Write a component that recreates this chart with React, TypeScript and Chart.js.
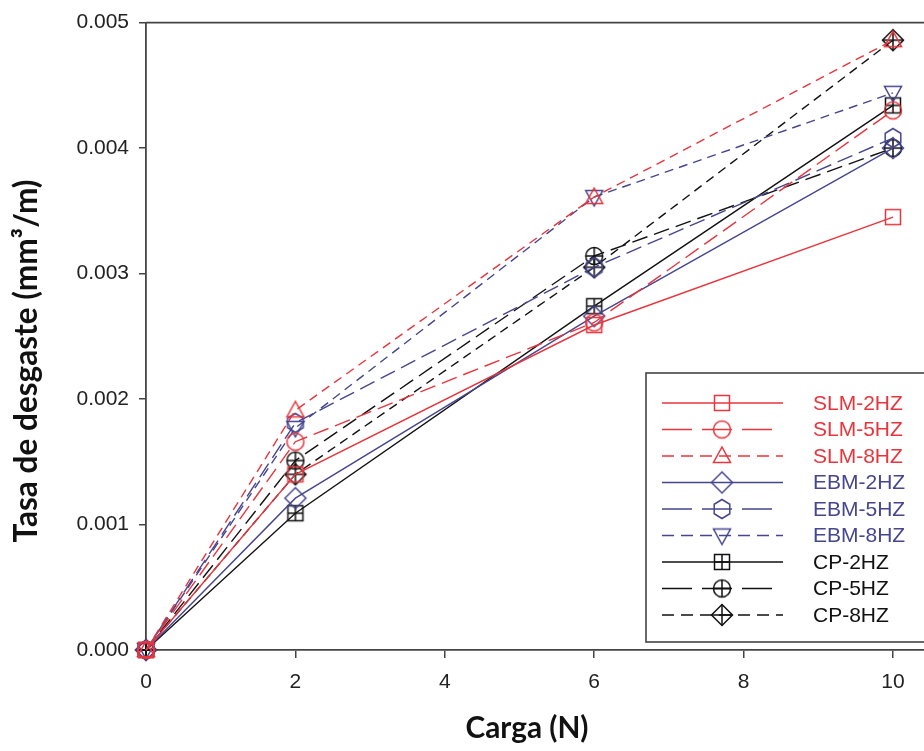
import React, { useEffect, useRef } from "react";
import { Chart, registerables } from "chart.js";
Chart.register(...registerables);

// ---- data ----
const loads = [0, 2, 6, 10];
const xTicks = [0, 2, 4, 6, 8, 10];
const yTicks = [0, 0.001, 0.002, 0.003, 0.004, 0.005];
const seriesNames = ["SLM-2HZ", "SLM-5HZ", "SLM-8HZ", "EBM-2HZ", "EBM-5HZ", "EBM-8HZ", "CP-2HZ", "CP-5HZ", "CP-8HZ"];
const slm2HZ = [0, 0.00140, 0.00259, 0.00345];
const slm5HZ = [0, 0.00166, 0.00261, 0.00430];
const slm8HZ = [0, 0.00191, 0.00361, 0.00486];
const ebm2HZ = [0, 0.00121, 0.00266, 0.00400];
const ebm5HZ = [0, 0.00181, 0.00305, 0.00408];
const ebm8HZ = [0, 0.00177, 0.00361, 0.00444];
const cp2HZ = [0, 0.00109, 0.00274, 0.00434];
const cp5HZ = [0, 0.00151, 0.00314, 0.00400];
const cp8HZ = [0, 0.00140, 0.00305, 0.00486];
const seriesValues = [slm2HZ, slm5HZ, slm8HZ, ebm2HZ, ebm5HZ, ebm8HZ, cp2HZ, cp5HZ, cp8HZ];

// ---- styles ----
const RED = "#e8353d";
const BLUE = "#46468f";
const BLACK = "#111111";
const SOLID: number[] = [];
const LONG = [16, 7];
const SHORT = [9, 6];
const LEG_LONG = [30, 10];
const LEG_SHORT = [12, 7];

const styles = [
  { color: RED, dash: SOLID, legDash: SOLID, legEnd: 783, marker: "square" },
  { color: RED, dash: LONG, legDash: LEG_LONG, legEnd: 773, marker: "circle" },
  { color: RED, dash: SHORT, legDash: LEG_SHORT, legEnd: 783, marker: "triangle" },
  { color: BLUE, dash: SOLID, legDash: SOLID, legEnd: 783, marker: "diamond" },
  { color: BLUE, dash: LONG, legDash: LEG_LONG, legEnd: 773, marker: "hexagon" },
  { color: BLUE, dash: SHORT, legDash: LEG_SHORT, legEnd: 783, marker: "triangleDown" },
  { color: BLACK, dash: SOLID, legDash: SOLID, legEnd: 783, marker: "squarePlus" },
  { color: BLACK, dash: LONG, legDash: LEG_LONG, legEnd: 773, marker: "circlePlus" },
  { color: BLACK, dash: SHORT, legDash: LEG_SHORT, legEnd: 783, marker: "diamondPlus" },
];

function makeMarker(kind: string, color: string): HTMLCanvasElement {
  const s = 26;
  const c = document.createElement("canvas");
  c.width = s;
  c.height = s;
  const g = c.getContext("2d")!;
  g.strokeStyle = color;
  g.lineWidth = 1.5;
  const m = s / 2;
  g.beginPath();
  if (kind === "square" || kind === "squarePlus") {
    g.rect(m - 7.5, m - 7.5, 15, 15);
  } else if (kind === "circle" || kind === "circlePlus") {
    g.arc(m, m, 8.5, 0, Math.PI * 2);
  } else if (kind === "triangle") {
    g.moveTo(m, m - 9);
    g.lineTo(m + 8.5, m + 6.5);
    g.lineTo(m - 8.5, m + 6.5);
    g.closePath();
  } else if (kind === "triangleDown") {
    g.moveTo(m, m + 9);
    g.lineTo(m + 8.5, m - 6.5);
    g.lineTo(m - 8.5, m - 6.5);
    g.closePath();
  } else if (kind === "diamond" || kind === "diamondPlus") {
    g.moveTo(m, m - 10.5);
    g.lineTo(m + 10.5, m);
    g.lineTo(m, m + 10.5);
    g.lineTo(m - 10.5, m);
    g.closePath();
  } else if (kind === "hexagon") {
    for (let k = 0; k < 6; k++) {
      const a = -Math.PI / 2 + (k * Math.PI) / 3;
      const px = m + 9 * Math.cos(a);
      const py = m + 9.5 * Math.sin(a);
      if (k === 0) g.moveTo(px, py);
      else g.lineTo(px, py);
    }
    g.closePath();
  }
  g.stroke();
  if (kind.endsWith("Plus")) {
    const r = kind === "diamondPlus" ? 10.5 : kind === "circlePlus" ? 8.5 : 7.5;
    g.beginPath();
    g.moveTo(m - r, m);
    g.lineTo(m + r, m);
    g.moveTo(m, m - r);
    g.lineTo(m, m + r);
    g.stroke();
  }
  return c;
}

function fitFont(ctx: CanvasRenderingContext2D, text: string, family: string, target: number): string {
  let size = 24;
  ctx.font = `bold ${size}px ${family}`;
  const w = ctx.measureText(text).width;
  size = (size * target) / w;
  return `bold ${size.toFixed(2)}px ${family}`;
}

export default function App() {
  const ref = useRef<HTMLCanvasElement | null>(null);

  useEffect(() => {
    if (!ref.current) return;
    const markers = styles.map((st) => makeMarker(st.marker, st.color));

    const datasets = seriesValues.map((vals, i) => ({
      label: seriesNames[i],
      data: loads.map((x, j) => ({ x, y: vals[j] })),
      borderColor: styles[i].color,
      backgroundColor: "transparent",
      borderWidth: 1.4,
      borderDash: styles[i].dash,
      pointStyle: markers[i],
      pointRadius: 9,
      fill: false,
      tension: 0,
      clip: false,
    }));

    const decor = {
      id: "decor",
      afterDraw(chart: any) {
        const { ctx, chartArea } = chart;
        const { left, right, top } = chartArea;
        ctx.save();
        // top frame line
        ctx.strokeStyle = "#444";
        ctx.lineWidth = 1.6;
        ctx.beginPath();
        ctx.moveTo(left, top);
        ctx.lineTo(right, top);
        ctx.stroke();

        // axis titles
        ctx.fillStyle = "#111";
        ctx.textAlign = "center";
        ctx.textBaseline = "middle";
        const yTitle = "Tasa de desgaste (mm³/m)";
        ctx.font = fitFont(ctx, yTitle, "Lato, 'Open Sans', sans-serif", 363);
        ctx.save();
        ctx.translate(27, 361);
        ctx.rotate(-Math.PI / 2);
        ctx.fillText(yTitle, 0, 0);
        ctx.restore();
        const xTitle = "Carga (N)";
        ctx.font = fitFont(ctx, xTitle, "Lato, 'Open Sans', sans-serif", 123);
        ctx.fillText(xTitle, 527, 728);

        // legend
        const bx = 646, by = 373, bh = 269;
        ctx.fillStyle = "#ffffff";
        ctx.fillRect(bx, by, 400, bh);
        ctx.strokeStyle = "#444";
        ctx.lineWidth = 1.6;
        ctx.strokeRect(bx, by, 400, bh);
        const lx0 = 662, mx = 722, tx = 813;
        const row0 = 403, step = 26.5;
        seriesNames.forEach((name, i) => {
          const yy = row0 + i * step;
          const st = styles[i];
          ctx.strokeStyle = st.color;
          ctx.lineWidth = 1.4;
          ctx.setLineDash(st.legDash);
          ctx.beginPath();
          ctx.moveTo(lx0, yy);
          ctx.lineTo(st.legEnd, yy);
          ctx.stroke();
          ctx.setLineDash([]);
          const mk = markers[i];
          ctx.drawImage(mk, mx - mk.width / 2, yy - mk.height / 2);
          ctx.fillStyle = st.color;
          ctx.font = "21px 'Liberation Sans', Arial, sans-serif";
          ctx.textAlign = "left";
          ctx.textBaseline = "middle";
          ctx.fillText(name, tx, yy + 1);
        });
        ctx.restore();
      },
    };

    const chart = new Chart(ref.current, {
      type: "line",
      data: { datasets },
      options: {
        animation: false,
        responsive: false,
        events: [],
        layout: { autoPadding: false, padding: { top: 20, left: 0, right: 0, bottom: 0 } },
        plugins: { legend: { display: false }, tooltip: { enabled: false } },
        scales: {
          x: {
            type: "linear",
            min: 0,
            max: 10.415,
            afterBuildTicks: (s: any) => {
              s.ticks = xTicks.map((v) => ({ value: v }));
            },
            afterFit: (s: any) => {
              s.height = 101;
              s.paddingRight = 0;
              s.paddingLeft = 0;
            },
            grid: { display: true, drawOnChartArea: false, drawTicks: true, tickLength: 8, color: "#444", lineWidth: 1.5 },
            border: { display: true, color: "#444", width: 1.8 },
            ticks: {
              font: { family: "'Liberation Sans', Arial, sans-serif", size: 21 },
              color: "#222",
              padding: 12,
              maxRotation: 0,
              callback: (v: any) => String(v),
            },
          },
          y: {
            type: "linear",
            min: 0,
            max: 0.005,
            afterBuildTicks: (s: any) => {
              s.ticks = yTicks.map((v) => ({ value: v }));
            },
            afterFit: (s: any) => {
              s.width = 146;
            },
            grid: { display: true, drawOnChartArea: false, drawTicks: true, tickLength: 7, color: "#444", lineWidth: 1.5 },
            border: { display: true, color: "#444", width: 1.8 },
            ticks: {
              font: { family: "'Liberation Sans', Arial, sans-serif", size: 21 },
              color: "#222",
              padding: 10,
              callback: (v: any) => Number(v).toFixed(3),
            },
          },
        },
      },
      plugins: [decor],
    } as any);

    return () => chart.destroy();
  }, []);

  return (
    <div style={{ position: "fixed", left: 0, top: 0, width: 924, height: 751, background: "#fff" }}>
      <canvas ref={ref} width={924} height={751} style={{ display: "block" }} />
    </div>
  );
}
